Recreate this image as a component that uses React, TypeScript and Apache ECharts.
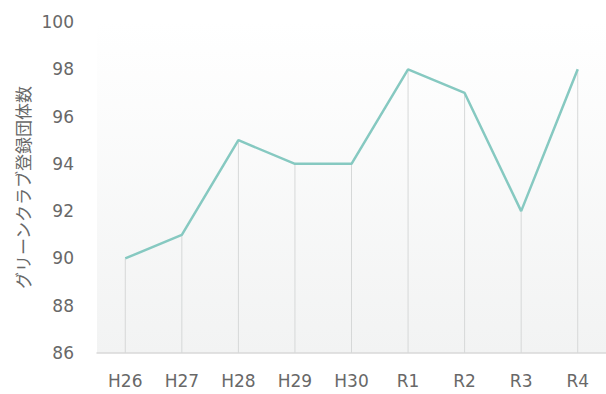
import React, { useEffect, useRef } from "react";
import * as echarts from "echarts";

const years = ["H26", "H27", "H28", "H29", "H30", "R1", "R2", "R3", "R4"];
const groupCounts = [90, 91, 95, 94, 94, 98, 97, 92, 98];
const yMin = 86;
const yMax = 100;
const yStep = 2;
const yTitle = "グリーンクラブ登録団体数";

const LATIN = "'DejaVu Sans', 'Noto Sans', sans-serif";
const CJK = "'Noto Sans CJK JP', sans-serif";

export default function App() {
  const ref = useRef<HTMLDivElement>(null);

  useEffect(() => {
    if (!ref.current) return;
    const chart = echarts.init(ref.current, undefined, { renderer: "svg" });
    chart.setOption({
      animation: false,
      backgroundColor: "#ffffff",
      grid: {
        left: 97,
        right: 0,
        top: 22,
        bottom: 41,
        show: true,
        borderWidth: 0,
        backgroundColor: new echarts.graphic.LinearGradient(0, 0, 0, 1, [
          { offset: 0, color: "#ffffff" },
          { offset: 1, color: "#f2f3f3" },
        ]),
      },
      xAxis: {
        type: "category",
        data: years,
        boundaryGap: true,
        axisLine: { lineStyle: { color: "#d9d9d9", width: 1.5 } },
        axisTick: { show: false },
        axisLabel: { color: "#686868", fontSize: 17, fontFamily: LATIN, margin: 19 },
      },
      yAxis: {
        type: "value",
        min: yMin,
        max: yMax,
        interval: yStep,
        name: yTitle,
        nameLocation: "middle",
        nameGap: 65,
        nameTextStyle: { color: "#686868", fontSize: 17, fontFamily: CJK },
        axisLine: { show: false },
        axisTick: { show: false },
        splitLine: { show: false },
        axisLabel: { color: "#686868", fontSize: 17, fontFamily: LATIN, margin: 23 },
      },
      series: [
        {
          type: "bar",
          data: groupCounts,
          barWidth: 1,
          itemStyle: { color: "#d6d8d8" },
          silent: true,
          z: 1,
        },
        {
          type: "line",
          data: groupCounts,
          symbol: "none",
          lineStyle: { color: "#86c9c1", width: 2.5 },
          z: 3,
        },
      ],
    });
    return () => chart.dispose();
  }, []);

  return (
    <div
      ref={ref}
      style={{ position: "fixed", left: 0, top: 0, width: 606, height: 394 }}
    />
  );
}
